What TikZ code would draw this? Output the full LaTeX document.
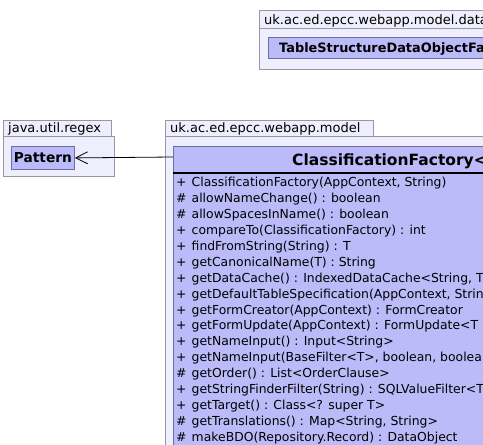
\documentclass[tikz,border=0pt]{standalone}
\usepackage{fontspec}
\setmainfont{DejaVu Sans}
\usetikzlibrary{arrows.meta,positioning}
\definecolor{pkgfill}  {RGB}{238,238,252}
\definecolor{pkgdraw}  {RGB}{150,150,165}
\definecolor{clsfill}  {RGB}{187,187,250}
\definecolor{clsdraw}  {RGB}{110,110,160}
\tikzset{
  pkgtab/.style={draw=pkgdraw,fill=pkgfill,line width=0.8pt},
  pkgbody/.style={draw=pkgdraw,fill=pkgfill,line width=0.8pt},
  pkglbl/.style={anchor=base west,inner sep=0pt,font=\fontsize{13}{15}\selectfont},
  cls/.style={draw=clsdraw,fill=clsfill,line width=0.8pt},
  clsname/.style={anchor=base west,inner sep=0pt,font=\fontsize{12.9}{15}\selectfont\bfseries},
  member/.style={anchor=base west,inner sep=0pt,font=\fontsize{12.4}{14}\selectfont},
  vis/.style={anchor=base west,inner sep=0pt,font=\fontsize{12.4}{14}\selectfont},
  dep/.style={-{Straight Barb[length=12pt,width=12pt]},line width=0.8pt},
}
\begin{document}
\begin{tikzpicture}[x=1pt,y=-1pt]
\useasboundingbox (0,0) rectangle (483,445);
\clip (0,0) rectangle (483,445);
% package uk.ac.ed.epcc.webapp.model.data
\draw[pkgtab] (259,10) rectangle (500,28);
\draw[pkgbody] (259,28) rectangle (500,69);
\node[pkglbl] (datalbl) at (264,24) {uk.ac.ed.epcc.webapp.model.data};
\draw[cls] (268,37) rectangle (500,58);
\node[clsname] (tsdof) at (279,52.5) {TableStructureDataObjectFa};
% package java.util.regex
\draw[pkgtab] (3,120) rectangle (111,136);
\draw[pkgbody] (3,136) rectangle (114,176);
\node[pkglbl] (regexlbl) at (8,132) {java.util.regex};
\node[cls,anchor=north west,minimum width=63pt,minimum height=23pt,inner sep=0pt] (pattern) at (11,146) {};
\node[clsname,font=\fontsize{13.7}{15}\selectfont\bfseries,anchor=base] at ([yshift=-5pt]pattern.center) {Pattern};
% package uk.ac.ed.epcc.webapp.model
\draw[pkgtab] (165,120) rectangle (373,136);
\draw[pkgbody] (165,136) rectangle (500,460);
\node[pkglbl] (modellbl) at (170,132) {uk.ac.ed.epcc.webapp.model};
\draw[cls] (173,146) rectangle (500,460);
\coordinate (cfwest) at (173,157);
\draw[line width=2pt] (173,173) -- (500,173);
\node[clsname,font=\fontsize{15.5}{17}\selectfont\bfseries] (cfname) at (292,165) {ClassificationFactory<};
% members
\foreach \v/\m [count=\i from 0] in {
  +/{ClassificationFactory(AppContext, String)},
  \#/{allowNameChange() : boolean},
  \#/{allowSpacesInName() : boolean},
  +/{compareTo(ClassificationFactory) : int},
  +/{findFromString(String) : T},
  +/{getCanonicalName(T) : String},
  +/{getDataCache() : IndexedDataCache<String, T},
  +/{getDefaultTableSpecification(AppContext, Strin},
  +/{getFormCreator(AppContext) : FormCreator},
  +/{getFormUpdate(AppContext) : FormUpdate<T},
  +/{getNameInput() : Input<String>},
  +/{getNameInput(BaseFilter<T>, boolean, boolea},
  \#/{getOrder() : List<OrderClause>},
  +/{getStringFinderFilter(String) : SQLValueFilter<T},
  +/{getTarget() : Class<? super T>},
  \#/{getTranslations() : Map<String, String>},
  \#/{makeBDO(Repository.Record) : DataObject}}{
  \node[vis] (v\i) at (176,186.5+15.94*\i) {\v};
  \node[member] (m\i) at (191.5,186.5+15.94*\i) {\m};
}
% dependency
\draw[dep] (cfwest) -- (pattern.east);
\end{tikzpicture}
\end{document}
